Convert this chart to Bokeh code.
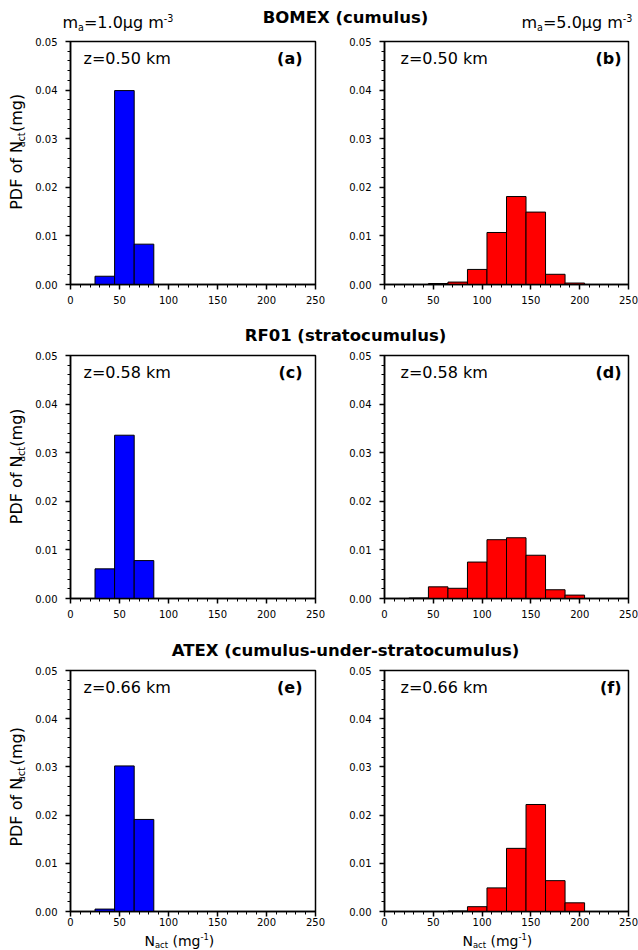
from bokeh.plotting import figure
from bokeh.models import Range1d, FixedTicker, PrintfTickFormatter, Label
from bokeh.layouts import column, row
from bokeh.embed import file_html
from bokeh.resources import INLINE
from bokeh.core.properties import value
from bokeh.core.validation import silence
from bokeh.core.validation.warnings import MISSING_RENDERERS
import numpy as np

silence(MISSING_RENDERERS, True)

FONT = "DejaVu Sans"

# ---------------- data ----------------
bin_centers = [35, 55, 75, 95, 115, 135, 155, 175, 195]
bin_width = 20
pdf_a = [0.0017, 0.0399, 0.0083, 0.0, 0.0, 0.0, 0.0, 0.0, 0.0]
pdf_b = [0.0, 0.0002, 0.0005, 0.0031, 0.0107, 0.0181, 0.0149, 0.0021, 0.0003]
pdf_c = [0.0061, 0.0336, 0.0078, 0.0, 0.0, 0.0, 0.0, 0.0, 0.0]
pdf_d = [0.0001, 0.0024, 0.0021, 0.0075, 0.0121, 0.0125, 0.0089, 0.0018, 0.0007]
pdf_e = [0.0005, 0.0302, 0.0191, 0.0, 0.0, 0.0, 0.0, 0.0, 0.0]
pdf_f = [0.0, 0.0, 0.0001, 0.0010, 0.0049, 0.0131, 0.0222, 0.0064, 0.0018]

x_ticks = [0, 50, 100, 150, 200, 250]
x_minor_step = 10
y_ticks = [0.00, 0.01, 0.02, 0.03, 0.04, 0.05]
y_minor_step = 0.002

case_titles = ["BOMEX (cumulus)", "RF01 (stratocumulus)", "ATEX (cumulus-under-stratocumulus)"]
heights = ["z=0.50 km", "z=0.58 km", "z=0.66 km"]
panel_tags = [["(a)", "(b)"], ["(c)", "(d)"], ["(e)", "(f)"]]
mass_left = [("m", "n"), ("a", "sub"), ("=1.0\u03bcg m", "n"), ("-3", "sup")]
mass_right = [("m", "n"), ("a", "sub"), ("=5.0\u03bcg m", "n"), ("-3", "sup")]
ylabel_parts = [("PDF of N", "n"), ("act", "sub"), (" (mg)", "n")]
xlabel_parts = [("N", "n"), ("act", "sub"), (" (mg", "n"), ("-1", "sup"), (")", "n")]
bar_colors = ["#0000ff", "#ff0000"]

# DejaVu Sans advance widths (units of 2048)
DJV = {' ': 651, '(': 799, ')': 799, '-': 739, '.': 651, '=': 1716, 'N': 1532, 'P': 1235,
       'D': 1577, 'F': 1178, 'a': 1255, 'c': 1126, 'f': 721, 'g': 1300, 'm': 1995,
       'o': 1253, 't': 803, '\u03bc': 1300}
SUB_SCALE = 0.6
MID = 0.346  # distance baseline -> middle of em box, in em


def tw(s, size):
    return sum(DJV.get(ch, 1303) for ch in s) / 2048.0 * size


def rich_width(parts, size):
    return sum(tw(t, size if k == "n" else size * SUB_SCALE) for t, k in parts)


def rich(fig, x, y, parts, size, direction, down, angle=0.0, sub_shift=0.18, sup_shift=0.42):
    """x, y: start of the baseline (data units = px). down: unit vector pointing below the text.
    Every piece is anchored at its own centre, which does not depend on the rotation."""
    pos = 0.0
    for txt, kind in parts:
        fs = size if kind == "n" else size * SUB_SCALE
        stripped = txt.lstrip(" ")
        pos += tw(txt[:len(txt) - len(stripped)], fs)   # leading blanks advance only
        w = tw(stripped, fs)
        shift = 0.0 if kind == "n" else (sub_shift * size if kind == "sub" else -sup_shift * size)
        off = shift - MID * fs
        along = pos + w / 2.0
        fig.add_layout(Label(x=x + along * direction[0] + off * down[0],
                             y=y + along * direction[1] + off * down[1],
                             x_units="data", y_units="data", text=stripped, angle=angle,
                             text_font=FONT, text_font_size="%.2fpx" % fs,
                             text_align="center", text_baseline="middle",
                             text_color="black"))
        pos += w
    return pos


TOTAL_W = 638
YLAB_W = 30


def blank(w, h):
    s = figure(width=w, height=h, x_range=Range1d(0, w), y_range=Range1d(0, h),
               output_backend="svg", toolbar_location=None, min_border=0,
               x_axis_location=None, y_axis_location=None)
    s.grid.visible = False
    s.outline_line_color = None
    s.background_fill_color = "white"
    s.border_fill_color = "white"
    return s


def title_strip(h, title, ty, extra=False):
    s = blank(TOTAL_W, h)
    s.text(x=[345], y=[h - ty], text=[title], text_font=value(FONT), text_font_style=value("bold"),
           text_font_size=value("16.5px"), text_align=value("center"),
           text_baseline=value("middle"), text_color=value("black"))
    if extra:
        rich(s, 62, h - 27.5, mass_left, 16, (1, 0), (0, -1))
        rich(s, 521, h - 27.5, mass_right, 16, (1, 0), (0, -1))
    return s


def ylab_strip(h, center_td):
    s = blank(YLAB_W, h)
    size = 16
    total = rich_width(ylabel_parts, size)
    rich(s, 21.8, (h - center_td) - total / 2.0, ylabel_parts, size, (0, 1), (1, 0), angle=np.pi / 2)
    return s


def xlab_strip(h, base_td):
    s = blank(TOTAL_W, h)
    for x0 in (144, 462):
        rich(s, x0, h - base_td, xlabel_parts, 14, (1, 0), (0, -1), sub_shift=0.15, sup_shift=0.4)
    return s


def panel(vals, col, rowi, bt, fh, bb, standoff):
    if col == 0:
        fw, bl, br = 245, 40, 19
    else:
        fw, bl, br = 244, 50, 10
    p = figure(frame_width=fw, frame_height=fh, x_range=Range1d(0, 250), y_range=Range1d(0, 0.05),
               output_backend="svg", toolbar_location=None,
               min_border_left=bl, min_border_right=br, min_border_top=bt, min_border_bottom=bb)
    p.grid.visible = False
    p.background_fill_color = "white"
    p.border_fill_color = "white"
    p.outline_line_color = "black"
    p.outline_line_width = 1.5
    p.outline_line_alpha = 1.0

    p.vbar(x=bin_centers, width=bin_width, top=vals, bottom=0,
           fill_color=bar_colors[col], line_color="black", line_width=1)

    p.xaxis.ticker = FixedTicker(ticks=x_ticks,
                                 minor_ticks=list(np.arange(x_ticks[0], x_ticks[-1] + 1, x_minor_step)))
    p.yaxis.ticker = FixedTicker(ticks=y_ticks,
                                 minor_ticks=[round(v, 4) for v in np.arange(0, 0.0501, y_minor_step)])
    p.yaxis.formatter = PrintfTickFormatter(format="%.2f")
    for ax in (p.xaxis, p.yaxis):
        ax.axis_line_width = 1.5
        ax.axis_line_color = "black"
        ax.major_tick_line_width = 1.5
        ax.minor_tick_line_width = 1
        ax.major_tick_out = 5
        ax.major_tick_in = 0
        ax.minor_tick_out = 3
        ax.minor_tick_in = 0
        ax.major_label_text_font = FONT
        ax.major_label_text_font_size = "10px"
        ax.major_label_text_color = "black"
    p.xaxis.major_label_standoff = standoff
    p.yaxis.major_label_standoff = 8

    zx = 13 if col == 0 else 16
    p.add_layout(Label(x=zx, y=fh - 16.5, x_units="screen", y_units="screen", text=heights[rowi],
                       text_font=FONT, text_font_size="16px", text_align="left",
                       text_baseline="middle", text_color="black"))
    tx = fw - (13 if col == 0 else 7)
    p.add_layout(Label(x=tx, y=fh - 16.5, x_units="screen", y_units="screen", text=panel_tags[rowi][col],
                       text_font=FONT, text_font_size="16px", text_font_style="bold",
                       text_align="right", text_baseline="middle", text_color="black"))
    return p


# layout (page px): strip1 34 | row1 286 | strip2 27 | row2 287 | strip3 28 | row3 268 | xlab 20
s1 = title_strip(34, case_titles[0], 17, extra=True)
y1 = ylab_strip(286, 7 + 243 / 2.0)
pa = panel(pdf_a, 0, 0, 7, 243, 36, 6)
pb = panel(pdf_b, 1, 0, 7, 243, 36, 6)
s2 = title_strip(27, case_titles[1], 15)
y2 = ylab_strip(287, 8 + 243 / 2.0)
pc = panel(pdf_c, 0, 1, 8, 243, 36, 6)
pd_ = panel(pdf_d, 1, 1, 8, 243, 36, 6)
s3 = title_strip(28, case_titles[2], 16)
y3 = ylab_strip(268, 8 + 241 / 2.0)
pe = panel(pdf_e, 0, 2, 8, 241, 19, 1)
pf = panel(pdf_f, 1, 2, 8, 241, 19, 1)
sx = xlab_strip(20, 15)

layout = column(s1, row(y1, pa, pb), s2, row(y2, pc, pd_), s3, row(y3, pe, pf), sx)

open("out.html", "w").write(file_html(layout, INLINE, title="PDF of Nact"))
